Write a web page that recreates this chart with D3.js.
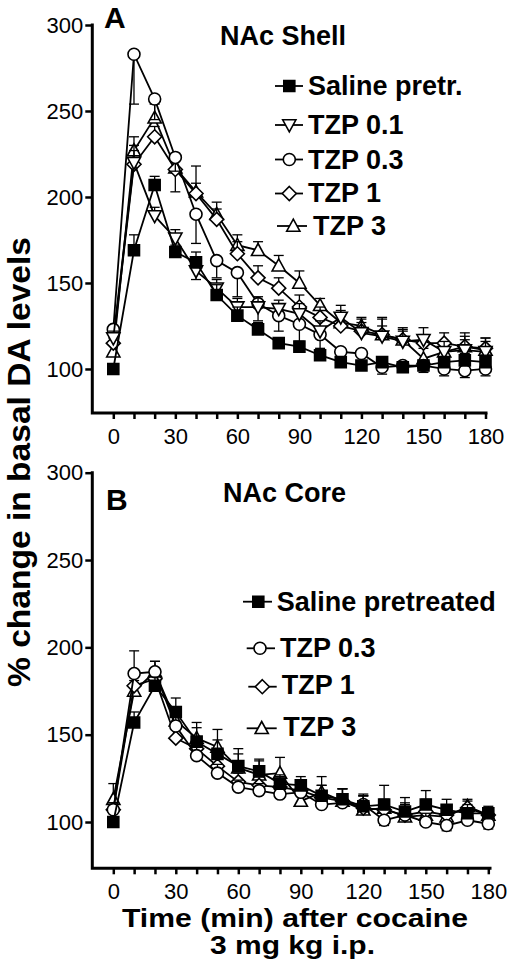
<!DOCTYPE html>
<html>
<head>
<meta charset="utf-8">
<script src="https://cdn.jsdelivr.net/npm/d3@7"></script>
<style>
  html, body { margin: 0; padding: 0; background: #fff; }
  svg { display: block; }
  text { font-family: "Liberation Sans", Arial, Helvetica, sans-serif; fill: #000; }
</style>
</head>
<body>
<svg id="chart" width="511" height="975"></svg>
<script>
// ---------------- DATA ----------------
const timesMin = [0, 10, 20, 30, 40, 50, 60, 70, 80, 90, 100, 110, 120, 130, 140, 150, 160, 170, 180];
const xTickValues = [0, 10, 20, 30, 40, 50, 60, 70, 80, 90, 100, 110, 120, 130, 140, 150, 160, 170, 180];
const yTickValues = [100, 150, 200, 250, 300];

// Panel A : NAc Shell
const salineA = [100, 169, 207, 168, 162, 143, 131, 123, 115, 113, 108, 104, 102, 104, 101, 102, 104, 105, 104];
const tzp01A  = [118, 220, 189, 176, 157, 147, 136, 136, 135, 132, 122, 130, 121, 119, 116, 117, 110, 111, 110];
const tzp03A  = [123, 283, 257, 223, 190, 163, 156, 138, 131, 126, 120, 110, 109, 101, 102, 102, 100, 99, 100];
const tzp1A   = [115, 219, 235, 216, 202, 187, 167, 153, 147, 136, 130, 125, 122, 120, 117, 115, 115, 113, 112];
const tzp3A   = [110, 227, 246, 217, 203, 190, 172, 169, 160, 150, 137, 127, 125, 120, 117, 106, 110, 113, 111];
// signed SEM (positive = bar drawn upward, negative = downward)
const salineA_err = [0, 9, 5, 4, 6, 6, 5, 4, 3, 3, 3, 2, 2, 2, 2, 2, 3, 4, 4];
const tzp01A_err  = [4, 10, 5, 5, -5, 5, 5, 6, 5, 6, 6, 7, 8, 10, 7, 7, 6, 6, 6];
const tzp03A_err  = [-5, -29, -12, -8, -17, -10, -14, -10, -9, -10, -8, -5, -6, -4, -4, -4, -4, -4, -4];
const tzp1A_err   = [4, 8, 6, -13, 6, 6, 7, 7, 6, 7, 6, 6, 5, 5, 5, 5, 6, 6, 6];
const tzp3A_err   = [5, 8, 8, 6, 15, 7, 6, 5, 6, 7, 4, 7, 5, 10, 7, 6, 5, 8, 7];

// Panel B : NAc Core
const salineB = [100, 157, 178, 163, 146, 139, 132, 129, 122, 121, 115, 113, 109, 110, 106, 110, 107, 105, 105];
const tzp03B  = [107, 185, 186, 155, 138, 128, 120, 118, 116, 117, 110, 111, 110, 101, 104, 100, 98, 101, 99];
const tzp1B   = [107, 178, 182, 148, 142, 132, 123, 121, 120, 118, 114, 112, 108, 107, 104, 106, 104, 108, 104];
const tzp3B   = [113, 175, 186, 158, 148, 143, 131, 127, 128, 112, 117, 112, 107, 108, 103, 104, 103, 109, 104];
const salineB_err = [0, 6, 5, 8, 8, 8, 10, 7, 5, 5, 6, 6, 6, 11, 8, 8, 6, 5, 4];
const tzp03B_err  = [4, 13, 6, 6, 5, 5, 4, 4, 4, 4, 4, 5, 5, -3, 4, 5, -3, 3, -3];
const tzp1B_err   = [4, 5, 6, 5, 5, 5, 5, 5, 6, 5, 7, 7, 8, 5, 6, 7, 5, 4, 4];
const tzp3B_err   = [9, 6, 6, 8, 9, 10, 8, 8, 9, 6, 9, 7, 8, 5, 8, 8, 6, 4, 4];

const legendA = ["Saline pretr.", "TZP 0.1", "TZP 0.3", "TZP 1", "TZP 3"];
const legendB = ["Saline pretreated", "TZP 0.3", "TZP 1", "TZP 3"];

const yAxisTitle = "% change in basal DA levels";
const xAxisTitle1 = "Time (min) after cocaine";
const xAxisTitle2 = "3 mg kg i.p.";

// ---------------- DRAWING ----------------
const svg = d3.select("#chart");

const markerPath = {
  square:   "M-5.5,-5.5h11v11h-11Z",
  triUp:    "M0,-6.8L6.6,5.2L-6.6,5.2Z",
  triDown:  "M0,6.8L6.6,-5.2L-6.6,-5.2Z",
  diamond:  "M0,-7L7,0L0,7L-7,0Z"
};
function drawMarker(g, type, x, y) {
  if (type === "circle") {
    g.append("circle").attr("cx", x).attr("cy", y).attr("r", 6)
      .attr("fill", "#fff").attr("stroke", "#000").attr("stroke-width", 1.6);
  } else {
    g.append("path").attr("d", markerPath[type])
      .attr("transform", `translate(${x},${y})`)
      .attr("fill", type === "square" ? "#000" : "#fff")
      .attr("stroke", "#000").attr("stroke-width", 1.6)
      .attr("stroke-linejoin", "miter");
  }
}

function drawPanel(cfg) {
  const g = svg.append("g");
  const x = d3.scaleLinear().domain([0, 180]).range(cfg.xRange);
  const y = d3.scaleLinear().domain(cfg.yDomain).range(cfg.yRange);

  g.append("path")
    .attr("d", `M${cfg.axisX},${cfg.yRange[1]}V${cfg.yRange[0]}H${cfg.xEnd}`)
    .attr("fill", "none").attr("stroke", "#000").attr("stroke-width", 3)
    .attr("stroke-linecap", "square");

  const yAxis = d3.axisLeft(y).tickValues(yTickValues).tickSize(7).tickSizeOuter(0).tickPadding(2);
  const ya = g.append("g").attr("transform", `translate(${cfg.axisX},0)`).call(yAxis);
  ya.select(".domain").remove();
  ya.selectAll(".tick line").attr("stroke-width", 2.5);
  ya.selectAll(".tick text").attr("font-size", 22).attr("font-family", "Liberation Sans, Arial, sans-serif");

  const xAxis = d3.axisBottom(x).tickValues(xTickValues).tickSize(6).tickSizeOuter(0).tickPadding(9)
    .tickFormat(d => (d % 30 === 0 ? d : ""));
  const xa = g.append("g").attr("transform", `translate(0,${cfg.yRange[0]})`).call(xAxis);
  xa.select(".domain").remove();
  xa.selectAll(".tick line").attr("stroke-width", 2.5);
  xa.selectAll(".tick text").attr("font-size", 22).attr("font-family", "Liberation Sans, Arial, sans-serif");

  const line = d3.line().x((d, i) => x(timesMin[i])).y(d => y(d));

  cfg.series.slice().reverse().forEach(s => {
    const sg = g.append("g");
    s.values.forEach((v, i) => {
      const e = s.err[i];
      if (!e) return;
      const cx = x(timesMin[i]);
      sg.append("line").attr("x1", cx).attr("x2", cx).attr("y1", y(v)).attr("y2", y(v + e))
        .attr("stroke", "#000").attr("stroke-width", 1.3);
      sg.append("line").attr("x1", cx - 5).attr("x2", cx + 5).attr("y1", y(v + e)).attr("y2", y(v + e))
        .attr("stroke", "#000").attr("stroke-width", 1.3);
    });
    sg.append("path").datum(s.values).attr("d", line)
      .attr("fill", "none").attr("stroke", "#000").attr("stroke-width", 1.8);
    s.values.forEach((v, i) => drawMarker(sg, s.marker, x(timesMin[i]), y(v)));
  });

  g.append("text").attr("x", cfg.letterPos[0]).attr("y", cfg.letterPos[1])
    .attr("font-size", 30).attr("font-weight", "bold").text(cfg.letter);
  g.append("text").attr("x", cfg.titlePos[0]).attr("y", cfg.titlePos[1])
    .attr("font-size", 27).attr("font-weight", "bold").text(cfg.title);

  cfg.legend.forEach((lab, i) => {
    const L = cfg.legendPos[i];
    const lg = g.append("g");
    lg.append("line").attr("x1", L.x1).attr("x2", L.x2).attr("y1", L.sy).attr("y2", L.sy)
      .attr("stroke", "#000").attr("stroke-width", 1.8);
    drawMarker(lg, cfg.series[i].marker, L.sx, L.sy);
    lg.append("text").attr("x", L.tx).attr("y", L.ty)
      .attr("font-size", 27).attr("font-weight", "bold").text(lab);
  });
}

drawPanel({
  xRange: [113.3, 485.5], yDomain: [74.4, 300], yRange: [413, 25], axisX: 92.3, xEnd: 486,
  letter: "A", letterPos: [104, 28], title: "NAc Shell", titlePos: [220, 45],
  series: [
    { values: salineA, err: salineA_err, marker: "square" },
    { values: tzp01A, err: tzp01A_err, marker: "triDown" },
    { values: tzp03A, err: tzp03A_err, marker: "circle" },
    { values: tzp1A, err: tzp1A_err, marker: "diamond" },
    { values: tzp3A, err: tzp3A_err, marker: "triUp" }
  ],
  legend: legendA,
  legendPos: [
    { x1: 275, x2: 303, sx: 289.3, sy: 86, tx: 308, ty: 95 },
    { x1: 275, x2: 303, sx: 289.3, sy: 125, tx: 308, ty: 134 },
    { x1: 275, x2: 303, sx: 289.3, sy: 159.5, tx: 308, ty: 168.5 },
    { x1: 275, x2: 303, sx: 289.3, sy: 193.5, tx: 308, ty: 202 },
    { x1: 277, x2: 307, sx: 293.3, sy: 226, tx: 313, ty: 235 }
  ]
});

drawPanel({
  xRange: [113.3, 488.3], yDomain: [73.5, 300], yRange: [868.3, 472.7], axisX: 92.3, xEnd: 490,
  letter: "B", letterPos: [106, 510], title: "NAc Core", titlePos: [223, 502],
  series: [
    { values: salineB, err: salineB_err, marker: "square" },
    { values: tzp03B, err: tzp03B_err, marker: "circle" },
    { values: tzp1B, err: tzp1B_err, marker: "diamond" },
    { values: tzp3B, err: tzp3B_err, marker: "triUp" }
  ],
  legend: legendB,
  legendPos: [
    { x1: 243, x2: 272, sx: 258.3, sy: 601.7, tx: 276.7, ty: 610.5 },
    { x1: 246.7, x2: 275, sx: 260, sy: 648.3, tx: 280, ty: 657 },
    { x1: 248.3, x2: 276.7, sx: 262.3, sy: 686.7, tx: 281.7, ty: 694 },
    { x1: 246.7, x2: 276.7, sx: 261.7, sy: 728.3, tx: 283.3, ty: 736 }
  ]
});

// axis titles
svg.append("text")
  .attr("transform", "translate(30,462) rotate(-90)")
  .attr("text-anchor", "middle")
  .attr("font-size", 31).attr("font-weight", "bold")
  .attr("textLength", 450).attr("lengthAdjust", "spacingAndGlyphs")
  .text(yAxisTitle);

svg.append("text").attr("x", 295).attr("y", 927).attr("text-anchor", "middle")
  .attr("font-size", 25).attr("font-weight", "bold")
  .attr("textLength", 346).attr("lengthAdjust", "spacingAndGlyphs")
  .text(xAxisTitle1);
svg.append("text").attr("x", 292.5).attr("y", 954).attr("text-anchor", "middle")
  .attr("font-size", 25).attr("font-weight", "bold")
  .attr("textLength", 165).attr("lengthAdjust", "spacingAndGlyphs")
  .text(xAxisTitle2);
</script>
</body>
</html>
